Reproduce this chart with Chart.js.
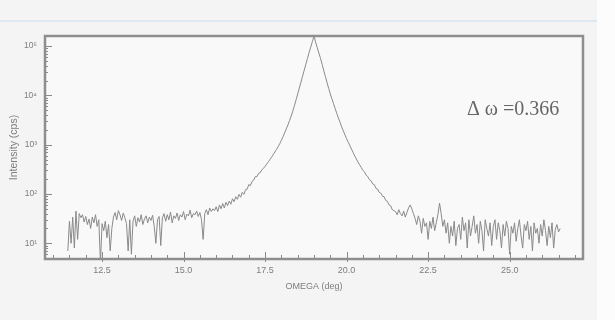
<!DOCTYPE html>
<html>
<head>
<meta charset="utf-8">
<script src="https://cdn.jsdelivr.net/npm/chart.js@4.4.0/dist/chart.umd.min.js"></script>
<style>
  html, body { margin: 0; padding: 0; background: #f4f4f4; }
  #chart { display: block; }
</style>
</head>
<body>
<canvas id="chart" width="615" height="320"></canvas>
<script>
// Omega scan, values
const omega = [
  11.45, 11.50, 11.55, 11.60, 11.65, 11.70, 11.75, 11.80, 11.85, 11.90,
  11.95, 12.00, 12.05, 12.10, 12.15, 12.20, 12.25, 12.30, 12.35, 12.40,
  12.45, 12.50, 12.55, 12.60, 12.65, 12.70, 12.75, 12.80, 12.85, 12.90,
  12.95, 13.00, 13.05, 13.10, 13.15, 13.20, 13.25, 13.30, 13.35, 13.40,
  13.45, 13.50, 13.55, 13.60, 13.65, 13.70, 13.75, 13.80, 13.85, 13.90,
  13.95, 14.00, 14.05, 14.10, 14.15, 14.20, 14.25, 14.30, 14.35, 14.40,
  14.45, 14.50, 14.55, 14.60, 14.65, 14.70, 14.75, 14.80, 14.85, 14.90,
  14.95, 15.00, 15.05, 15.10, 15.15, 15.20, 15.25, 15.30, 15.35, 15.40,
  15.45, 15.50, 15.55, 15.60, 15.65, 15.70, 15.75, 15.80, 15.85, 15.90,
  15.95, 16.00, 16.05, 16.10, 16.15, 16.20, 16.25, 16.30, 16.35, 16.40,
  16.45, 16.50, 16.55, 16.60, 16.65, 16.70, 16.75, 16.80, 16.85, 16.90,
  16.95, 17.00, 17.05, 17.10, 17.15, 17.20, 17.25, 17.30, 17.35, 17.40,
  17.45, 17.50, 17.55, 17.60, 17.65, 17.70, 17.75, 17.80, 17.85, 17.90,
  17.95, 18.00, 18.05, 18.10, 18.15, 18.20, 18.25, 18.30, 18.35, 18.40,
  18.45, 18.50, 18.55, 18.60, 18.65, 18.70, 18.75, 18.80, 18.85, 18.90,
  18.95, 19.00, 19.05, 19.10, 19.15, 19.20, 19.25, 19.30, 19.35, 19.40,
  19.45, 19.50, 19.55, 19.60, 19.65, 19.70, 19.75, 19.80, 19.85, 19.90,
  19.95, 20.00, 20.05, 20.10, 20.15, 20.20, 20.25, 20.30, 20.35, 20.40,
  20.45, 20.50, 20.55, 20.60, 20.65, 20.70, 20.75, 20.80, 20.85, 20.90,
  20.95, 21.00, 21.05, 21.10, 21.15, 21.20, 21.25, 21.30, 21.35, 21.40,
  21.45, 21.50, 21.55, 21.60, 21.65, 21.70, 21.75, 21.80, 21.85, 21.90,
  21.95, 22.00, 22.05, 22.10, 22.15, 22.20, 22.25, 22.30, 22.35, 22.40,
  22.45, 22.50, 22.55, 22.60, 22.65, 22.70, 22.75, 22.80, 22.85, 22.90,
  22.95, 23.00, 23.05, 23.10, 23.15, 23.20, 23.25, 23.30, 23.35, 23.40,
  23.45, 23.50, 23.55, 23.60, 23.65, 23.70, 23.75, 23.80, 23.85, 23.90,
  23.95, 24.00, 24.05, 24.10, 24.15, 24.20, 24.25, 24.30, 24.35, 24.40,
  24.45, 24.50, 24.55, 24.60, 24.65, 24.70, 24.75, 24.80, 24.85, 24.90,
  24.95, 25.00, 25.05, 25.10, 25.15, 25.20, 25.25, 25.30, 25.35, 25.40,
  25.45, 25.50, 25.55, 25.60, 25.65, 25.70, 25.75, 25.80, 25.85, 25.90,
  25.95, 26.00, 26.05, 26.10, 26.15, 26.20, 26.25, 26.30, 26.35, 26.40,
  26.45, 26.50, 26.55
];

const intensity = [
  7, 28, 10, 34, 8, 45, 12, 40, 33, 38,
  27, 35, 24, 31, 20, 34, 26, 38, 22, 30,
  4, 25, 18, 28, 13, 24, 7, 20, 34, 42,
  30, 46, 38, 29, 41, 33, 25, 7, 30, 6,
  28, 36, 22, 33, 27, 38, 24, 31, 36, 26,
  34, 29, 37, 22, 10, 30, 35, 9, 33, 40,
  28, 38, 30, 43, 26, 36, 32, 41, 29, 38,
  34, 44, 30, 39, 36, 47, 33, 40, 38, 45,
  35, 42, 30, 12, 40, 48, 38, 52, 44, 50,
  46, 55, 44, 60, 50, 64, 52, 68, 58, 72,
  62, 80, 70, 88, 78, 98, 86, 108, 98, 122,
  125, 155, 148, 180, 190, 225, 225, 262, 270, 310,
  330, 365, 405, 450, 500, 560, 630, 710, 800, 910,
  1050, 1230, 1445, 1740, 2090, 2510, 3090, 3800, 4790, 6170,
  8130, 10700, 14100, 18600, 24500, 32400, 42700, 56200, 74100, 95500,
  123000, 160000, 120000, 93000, 72000, 56000, 42700, 31600, 24000, 18200,
  13800, 10700, 8500, 6760, 5370, 4270, 3470, 2820, 2290, 1900,
  1580, 1320, 1120, 955, 810, 690, 590, 510, 445, 390,
  345, 300, 280, 240, 225, 195, 185, 160, 155, 130,
  126, 108, 104, 90, 88, 74, 71, 60, 58, 48,
  46, 44, 38, 48, 40, 36, 45, 34, 42, 52,
  60, 50, 40, 32, 24, 36, 28, 16, 32, 22,
  26, 12, 28, 20, 34, 18, 26, 38, 65, 40,
  22, 30, 16, 26, 10, 22, 14, 28, 9, 20,
  24, 12, 34, 18, 26, 8, 30, 14, 22, 36,
  16, 24, 10, 28, 18, 7, 30, 20, 14, 26,
  9, 22, 30, 12, 26, 18, 8, 24, 14, 28,
  20, 6, 22, 16, 26, 11, 20, 30, 14, 8,
  24, 18, 28, 12, 22, 7, 26, 16, 20, 10,
  24, 14, 30, 18, 9, 22, 13, 26, 8, 19,
  24, 17, 20
];

const xTicks = [12.5, 15.0, 17.5, 20.0, 22.5, 25.0];
const xMinorTicks = [11.0, 11.5, 12.0, 13.0, 13.5, 14.0, 14.5, 15.5, 16.0, 16.5, 17.0,
  18.0, 18.5, 19.0, 19.5, 20.5, 21.0, 21.5, 22.0, 23.0, 23.5, 24.0, 24.5, 25.5, 26.0, 26.5, 27.0];
const yTicks = [10, 100, 1000, 10000, 100000];
const yTickLabels = ['10¹', '10²', '10³', '10⁴', '10⁵'];
const annotationText = 'Δ ω =0.366';

const inkColor = '#8a8a8a';
const textColor = '#7d7d7d';
const labelFont = '"Liberation Sans", Arial, sans-serif';

// Page background, frame, inward ticks and the annotation
const scanDecor = {
  id: 'scanDecor',
  beforeDraw: (chart) => {
    const { ctx, chartArea: a } = chart;
    ctx.save();
    ctx.fillStyle = '#f4f4f4';
    ctx.fillRect(0, 0, chart.width, chart.height);
    ctx.fillStyle = '#fcfcfc';
    ctx.fillRect(597, 0, chart.width - 597, chart.height);
    ctx.fillStyle = '#dfe7f0';
    ctx.fillRect(0, 20, 597, 2);
    ctx.fillStyle = '#f9f9f9';
    ctx.fillRect(a.left, a.top, a.right - a.left, a.bottom - a.top);
    ctx.restore();
  },
  afterDraw: (chart) => {
    const { ctx, chartArea: a } = chart;
    const x = chart.scales.x;
    const y = chart.scales.y;
    ctx.save();
    ctx.strokeStyle = inkColor;
    ctx.lineWidth = 1;

    // x ticks, pointing up into the plot
    ctx.beginPath();
    xMinorTicks.forEach(v => {
      const px = Math.round(x.getPixelForValue(v)) + 0.5;
      ctx.moveTo(px, a.bottom);
      ctx.lineTo(px, a.bottom - 4);
    });
    xTicks.forEach(v => {
      const px = Math.round(x.getPixelForValue(v)) + 0.5;
      ctx.moveTo(px, a.bottom + 3);
      ctx.lineTo(px, a.bottom - 7);
    });
    ctx.stroke();

    // y ticks, decades long and the 2..9 steps short
    ctx.beginPath();
    for (let d = 1; d <= 100000; d *= 10) {
      for (let m = 1; m <= 9; m++) {
        const v = d * m;
        if (v < y.min || v > y.max) continue;
        const py = Math.round(y.getPixelForValue(v)) + 0.5;
        ctx.moveTo(a.left, py);
        ctx.lineTo(a.left + (m === 1 ? 7 : 3), py);
      }
    }
    ctx.stroke();

    // frame
    ctx.lineWidth = 2.5;
    ctx.strokeStyle = '#8e8e8e';
    ctx.strokeRect(a.left, a.top, a.right - a.left, a.bottom - a.top);

    // annotation
    ctx.fillStyle = '#666666';
    ctx.font = '20px "Liberation Serif", "DejaVu Serif", serif';
    ctx.textBaseline = 'alphabetic';
    ctx.textAlign = 'left';
    ctx.fillText(annotationText, 467, 115);
    ctx.restore();
  }
};

const points = omega.map((w, i) => ({ x: w, y: intensity[i] }));

new Chart(document.getElementById('chart'), {
  type: 'line',
  data: {
    datasets: [{
      label: 'Intensity',
      data: points,
      borderColor: inkColor,
      borderWidth: 1,
      pointRadius: 0,
      tension: 0,
      fill: false
    }]
  },
  options: {
    responsive: false,
    animation: false,
    devicePixelRatio: 1,
    layout: { padding: { left: 8, right: 32, top: 36, bottom: 26 } },
    plugins: {
      legend: { display: false },
      tooltip: { enabled: false }
    },
    scales: {
      x: {
        type: 'linear',
        min: 10.75,
        max: 27.25,
        afterBuildTicks: (scale) => { scale.ticks = xTicks.map(v => ({ value: v })); },
        afterFit: (scale) => { scale.height = 35; },
        grid: { display: false, drawTicks: false },
        border: { display: false },
        ticks: {
          padding: 6,
          color: textColor,
          font: { family: labelFont, size: 9 },
          callback: (v) => v.toFixed(1)
        },
        title: {
          display: true,
          text: 'OMEGA (deg)',
          color: textColor,
          font: { family: labelFont, size: 9 },
          padding: { top: 0, bottom: 2 }
        }
      },
      y: {
        type: 'logarithmic',
        min: 4.8,
        max: 160000,
        afterBuildTicks: (scale) => { scale.ticks = yTicks.map(v => ({ value: v })); },
        afterFit: (scale) => { scale.width = 37; },
        grid: { display: false, drawTicks: false },
        border: { display: false },
        ticks: {
          padding: 8,
          color: textColor,
          font: { family: labelFont, size: 8.5 },
          callback: (v) => yTickLabels[yTicks.indexOf(v)]
        },
        title: {
          display: true,
          text: 'Intensity (cps)',
          color: textColor,
          font: { family: labelFont, size: 10.5 },
          padding: { top: 0, bottom: 0 }
        }
      }
    }
  },
  plugins: [scanDecor]
});
</script>
</body>
</html>
